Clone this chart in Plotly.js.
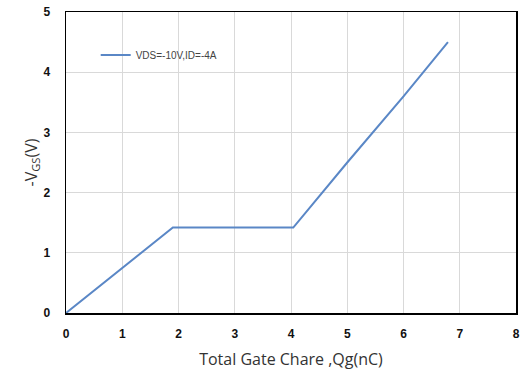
<!DOCTYPE html>
<html><head><meta charset="utf-8">
<script src="https://cdn.plot.ly/plotly-3.0.1.min.js"></script>
<style>html,body{margin:0;padding:0;background:#fff}#chart{width:529px;height:382px}</style>
</head><body><div id="chart"></div>
<script>
const qg = [0, 1.9, 4.04, 5, 6, 6.79];
const vgs = [0, 1.42, 1.42, 2.5, 3.6, 4.5];
const seriesName = "VDS=-10V,ID=-4A";
const xTicks = [0,1,2,3,4,5,6,7,8];
const yTicks = [0,1,2,3,4,5];

const trace = {x: qg, y: vgs, type: 'scatter', mode: 'lines', name: seriesName,
  line: {color: '#5a87c6', width: 2}};
const layout = {
  width: 529, height: 382,
  margin: {l: 66, r: 13, t: 12, b: 69},
  paper_bgcolor: '#fff', plot_bgcolor: '#fff',
  showlegend: true,
  legend: {x: 0.066, y: 0.857, xanchor: 'left', yanchor: 'middle', bgcolor: 'rgba(0,0,0,0)',
    font: {family: 'Liberation Sans Narrow, Liberation Sans, sans-serif', size: 10, color: '#444'}, itemwidth: 30},
  xaxis: {range: [0, 8], tickvals: xTicks, showgrid: true, gridcolor: '#d9d9d9', gridwidth: 1,
    zeroline: false, showline: true, linecolor: '#000', linewidth: 1.5, mirror: true, ticks: '',
    tickfont: {family: 'Liberation Sans, sans-serif', size: 12, color: '#111', weight: 'bold'},
    ticklabelstandoff: 9,
    title: {text: 'Total Gate Chare ,Qg(nC)', standoff: 14, font: {family: 'Open Sans, sans-serif', size: 16, color: '#333'}}},
  yaxis: {range: [0, 5], tickvals: yTicks, showgrid: true, gridcolor: '#d9d9d9', gridwidth: 1,
    zeroline: false, showline: true, linecolor: '#000', linewidth: 1.5, mirror: true, ticks: '',
    tickfont: {family: 'Liberation Sans, sans-serif', size: 12, color: '#111', weight: 'bold'},
    ticklabelstandoff: 12,
    title: {text: '-V<sub>GS</sub>(V)', standoff: 2, font: {family: 'Open Sans, sans-serif', size: 16, color: '#333'}}}
};
Plotly.newPlot('chart', [trace], layout, {displayModeBar: false, staticPlot: true});
</script></body></html>
